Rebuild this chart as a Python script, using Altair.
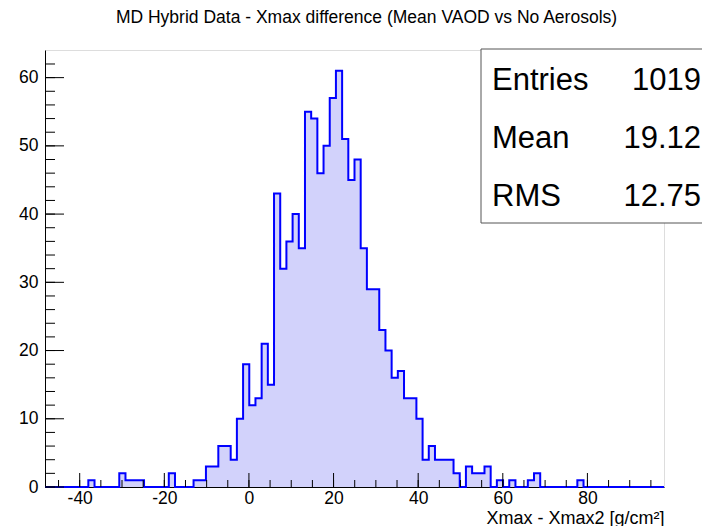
import altair as alt
import pandas as pd

# ---- data ----
x_min = -48.2
x_max = 98.1
n_bins = 100
counts = [
    0, 0, 0, 0, 0, 0, 0, 1, 0, 0,        # bins 0-9
    0, 0, 2, 1, 1, 1, 0, 0, 0, 0,        # 10-19
    2, 0, 0, 0, 1, 1, 3, 3, 6, 6,        # 20-29
    4, 10, 18, 12, 13, 21, 15, 43, 32, 36,   # 30-39
    40, 35, 55, 54, 46, 50, 57, 61, 51, 45,  # 40-49
    48, 35, 29, 29, 23, 20, 16, 17, 13, 13,  # 50-59
    10, 4, 6, 4, 4, 4, 2, 0, 3, 2,       # 60-69
    2, 3, 0, 1, 0, 1, 0, 0, 1, 2,        # 70-79
    0, 0, 0, 0, 0, 0, 1, 0, 0, 0,        # 80-89
    0, 0, 0, 0, 0, 0, 0, 0, 0, 0,        # 90-99
]
x_label_values = [-40, -20, 0, 20, 40, 60, 80]
y_label_values = [0, 10, 20, 30, 40, 50, 60]
x_minor_values = [-45, -40, -35, -30, -25, -20, -15, -10, -5, 0, 5, 10, 15, 20, 25,
                  30, 35, 40, 45, 50, 55, 60, 65, 70, 75, 80, 85, 90, 95]
y_minor_values = list(range(0, 64, 2))
stat_names = ["Entries", "Mean", "RMS"]
stat_values = ["1019", "19.12", "12.75"]
title_text = "MD Hybrid Data - Xmax difference (Mean VAOD vs No Aerosols)"
x_title = "Xmax - Xmax2 [g/cm²]"

# ---- tables ----
bw = (x_max - x_min) / n_bins
edges = [x_min + i * bw for i in range(n_bins + 1)]
outline = pd.DataFrame({"x": edges, "n": counts + [0]})
xmaj = pd.DataFrame({"v": x_label_values})
xmin_t = pd.DataFrame({"v": x_minor_values})
ymaj = pd.DataFrame({"v": y_label_values})
ymin_t = pd.DataFrame({"v": y_minor_values})
stats = pd.DataFrame({"name": stat_names, "val": stat_values, "row": [0, 1, 2]})

W, H = 619, 437
FONT = "Liberation Sans"
y_top = 1.05 * max(counts)

xs = alt.Scale(domain=[x_min, x_max], nice=False, zero=False)
ys = alt.Scale(domain=[0, y_top], nice=False, zero=True)

x_axis = alt.Axis(values=x_label_values, ticks=False, grid=False, domainColor="black",
                  labelFont=FONT, labelFontSize=17.5, labelColor="black", labelPadding=2,
                  labelExpr="'' + datum.value", title=x_title, titleAnchor="end",
                  titleFont=FONT, titleFontSize=18, titleFontWeight="normal",
                  titleColor="black", titleBaseline="alphabetic", titleY=36)
y_axis = alt.Axis(values=y_label_values, ticks=False, grid=False, domainColor="black",
                  labelFont=FONT, labelFontSize=17.5, labelColor="black", labelPadding=7,
                  title=None)

fill = alt.Chart(outline).mark_area(interpolate="step-after", color="#d2d2fb").encode(
    x=alt.X("x:Q", scale=xs, axis=x_axis),
    y=alt.Y("n:Q", scale=ys, axis=y_axis),
)

line = alt.Chart(outline).mark_line(interpolate="step-after", color="#0000ff",
                                    strokeWidth=2).encode(
    x=alt.X("x:Q", scale=xs),
    y=alt.Y("n:Q", scale=ys),
)

xminor = alt.Chart(xmin_t).mark_rule(color="black", strokeWidth=1).encode(
    x=alt.X("v:Q", scale=xs), y=alt.value(H), y2=alt.value(H - 7))
xmajor = alt.Chart(xmaj).mark_rule(color="black", strokeWidth=1).encode(
    x=alt.X("v:Q", scale=xs), y=alt.value(H), y2=alt.value(H - 14))
yminor = alt.Chart(ymin_t).mark_rule(color="black", strokeWidth=1).encode(
    y=alt.Y("v:Q", scale=ys), x=alt.value(0), x2=alt.value(10))
ymajor = alt.Chart(ymaj).mark_rule(color="black", strokeWidth=1).encode(
    y=alt.Y("v:Q", scale=ys), x=alt.value(0), x2=alt.value(19))

box = alt.Chart(stats.head(1)).mark_rect(fill="white", stroke="#555555", strokeWidth=1,
                                         clip=False).encode(
    x=alt.value(436), x2=alt.value(720), y=alt.value(-1), y2=alt.value(173))

row_y = [40, 98, 156]
text_layers = []
for i, yy in enumerate(row_y):
    base = alt.Chart(stats).transform_filter(alt.datum.row == i)
    text_layers.append(base.mark_text(align="left", baseline="alphabetic", font=FONT,
                                      fontSize=31, color="black").encode(
        x=alt.value(447), y=alt.value(yy), text="name:N"))
    text_layers.append(base.mark_text(align="right", baseline="alphabetic", font=FONT,
                                      fontSize=31, color="black").encode(
        x=alt.value(656), y=alt.value(yy), text="val:N"))

chart = alt.layer(fill, line, xminor, xmajor, yminor, ymajor, box, *text_layers).properties(
    width=W, height=H,
    title=alt.TitleParams(title_text, font=FONT, fontSize=17.5, fontWeight="normal",
                          color="black", anchor="middle", dx=12, offset=22),
    autosize=alt.AutoSizeParams(type="none"),
    padding={"left": 37, "top": 42, "right": 38, "bottom": 39},
).configure_view(stroke="#666666", strokeWidth=1).configure(background="white")

chart.save("out.html", embed_options={"renderer": "svg", "actions": False})
